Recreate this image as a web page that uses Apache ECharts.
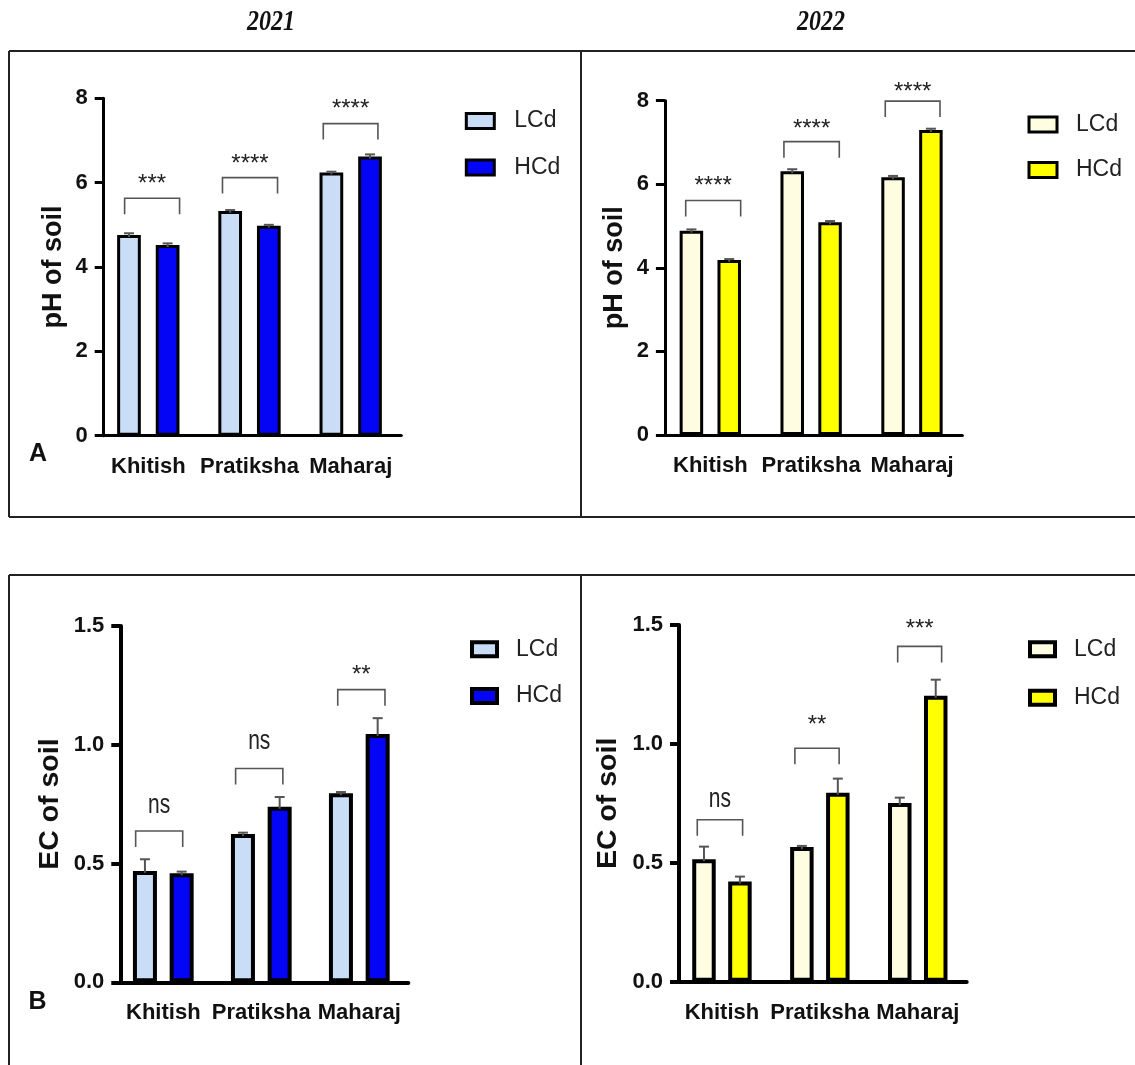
<!DOCTYPE html>
<html><head><meta charset="utf-8">
<script src="https://cdn.jsdelivr.net/npm/echarts@6/dist/echarts.min.js"></script>
<style>html,body{margin:0;padding:0;background:#fff}#c{width:1135px;height:1065px}</style>
</head><body><div id="c"></div>
<script>
// ---------------- data ----------------
const categories = ['Khitish', 'Pratiksha', 'Maharaj'];
const groupNames = ['LCd', 'HCd'];
const yearTitles = ['2021', '2022'];
const panelLetters = ['A', 'B'];
const phTicks = {min: 0, max: 8, interval: 2};
const ecTicks = {min: 0, max: 1.5, interval: 0.5};

const ph2021_LCd = [4.76, 5.33, 6.24];
const ph2021_HCd = [4.52, 4.98, 6.62];
const ph2021_LCd_sd = [0.04, 0.02, 0.02];
const ph2021_HCd_sd = [0.04, 0.02, 0.05];

const ph2022_LCd = [4.89, 6.31, 6.17];
const ph2022_HCd = [4.19, 5.09, 7.30];
const ph2022_LCd_sd = [0.03, 0.05, 0.03];
const ph2022_HCd_sd = [0.02, 0.03, 0.03];

const ec2021_LCd = [0.469, 0.624, 0.796];
const ec2021_HCd = [0.459, 0.739, 1.045];
const ec2021_LCd_sd = [0.049, 0.006, 0.005];
const ec2021_HCd_sd = [0.007, 0.041, 0.067];

const ec2022_LCd = [0.515, 0.566, 0.751];
const ec2022_HCd = [0.421, 0.795, 1.202];
const ec2022_LCd_sd = [0.053, 0.005, 0.023];
const ec2022_HCd_sd = [0.021, 0.059, 0.068];

// significance brackets: [category, left (fraction of band), right (fraction of band), bracket value, label value]
const sig_ph2021 = [[0, -0.234, 0.309, 5.63, 6.10], [1, -0.267, 0.277, 6.12, 6.58], [2, -0.271, 0.269, 7.40, 7.88]];
const sig_ph2021_labels = ['***', '****', '****'];
const sig_ph2022 = [[0, -0.244, 0.301, 5.61, 6.08], [1, -0.270, 0.279, 7.02, 7.44], [2, -0.265, 0.278, 7.99, 8.33]];
const sig_ph2022_labels = ['****', '****', '****'];
const sig_ec2021 = [[0, -0.282, 0.198, 0.637, 0.733], [1, -0.262, 0.220, 0.900, 1.006], [2, -0.220, 0.262, 1.232, 1.315]];
const sig_ec2021_labels = ['ns', 'ns', '**'];
const sig_ec2022 = [[0, -0.252, 0.211, 0.681, 0.758], [1, -0.255, 0.197, 0.982, 1.101], [2, -0.205, 0.244, 1.410, 1.505]];
const sig_ec2022_labels = ['ns', '**', '***'];

// ---------------- layout / style ----------------
const FONT = '"Liberation Sans", Arial, Helvetica, sans-serif';
const panels = [
  {id: 'pH 2021', grid: {left: 97.7, top: 98.3, width: 303.6, height: 337.4}, ticks: phTicks, dec: 0,
   yName: 'pH of soil', nameSize: 27, nameGap: 37, yOff: -6, bw: 23.7, bb: 3, gap: 0.63, aw: 3,
   colors: ['#c9ddf6', '#0505f5'], L: ph2021_LCd, H: ph2021_HCd, Lsd: ph2021_LCd_sd, Hsd: ph2021_HCd_sd,
   sig: sig_ph2021, sigLab: sig_ph2021_labels,
   legend: {left: 464.8, top: 109, gap: 22.5, iw: 28, ih: 15, bw: 3, pad: 15}},
  {id: 'pH 2022', grid: {left: 659.9, top: 100.7, width: 302.5, height: 334.3}, ticks: phTicks, dec: 0,
   yName: 'pH of soil', nameSize: 27, nameGap: 37, yOff: -5, bw: 23.5, bb: 3, gap: 0.61, aw: 3,
   colors: ['#fffde1', '#ffff00'], L: ph2022_LCd, H: ph2022_HCd, Lsd: ph2022_LCd_sd, Hsd: ph2022_HCd_sd,
   sig: sig_ph2022, sigLab: sig_ph2022_labels,
   legend: {left: 1027.5, top: 112.5, gap: 21.5, iw: 28, ih: 15, bw: 3, pad: 14}},
  {id: 'EC 2021', grid: {left: 114.3, top: 626, width: 294, height: 356.3}, ticks: ecTicks, dec: 1,
   yName: 'EC of soil', nameSize: 28.5, nameGap: 56, yOff: -6, bw: 24, bb: 4, gap: 0.53, aw: 4,
   colors: ['#c9ddf6', '#0505f5'], L: ec2021_LCd, H: ec2021_HCd, Lsd: ec2021_LCd_sd, Hsd: ec2021_HCd_sd,
   sig: sig_ec2021, sigLab: sig_ec2021_labels,
   legend: {left: 470, top: 637.3, gap: 22.7, iw: 25, ih: 14, bw: 4, pad: 14}},
  {id: 'EC 2022', grid: {left: 673, top: 625, width: 293.7, height: 356.7}, ticks: ecTicks, dec: 1,
   yName: 'EC of soil', nameSize: 28.5, nameGap: 56.5, yOff: -6, bw: 23.5, bb: 4, gap: 0.53, aw: 4,
   colors: ['#fffde1', '#ffff00'], L: ec2022_LCd, H: ec2022_HCd, Lsd: ec2022_LCd_sd, Hsd: ec2022_HCd_sd,
   sig: sig_ec2022, sigLab: sig_ec2022_labels,
   legend: {left: 1028, top: 637.3, gap: 24.5, iw: 25, ih: 14, bw: 4, pad: 14}}
];

const grids = [], xAxes = [], yAxes = [], series = [], legends = [];

function errorSeries(i, vals, sds, off) {
  return {
    type: 'custom', xAxisIndex: i, yAxisIndex: i, z: 6, silent: true,
    data: vals.map((v, k) => [k, v, v + sds[k]]),
    renderItem(params, api) {
      const c = api.coord([api.value(0), api.value(1)]);
      const t = api.coord([api.value(0), api.value(2)]);
      const x = c[0] + off;
      return {type: 'group', children: [
        {type: 'line', shape: {x1: x, y1: c[1] + 2, x2: x, y2: t[1]}, style: {stroke: '#555', lineWidth: 2}},
        {type: 'line', shape: {x1: x - 5, y1: t[1], x2: x + 5, y2: t[1]}, style: {stroke: '#555', lineWidth: 2}}
      ]};
    }
  };
}

function sigSeries(i, sig, labels) {
  return {
    type: 'custom', xAxisIndex: i, yAxisIndex: i, z: 6, silent: true,
    data: sig,
    renderItem(params, api) {
      const cat = api.value(0);
      const band = api.size([1, 0])[0];
      const p = api.coord([cat, api.value(3)]);
      const xl = p[0] + api.value(1) * band, xr = p[0] + api.value(2) * band;
      const y = p[1];
      const ly = api.coord([cat, api.value(4)])[1];
      const label = labels[params.dataIndex];
      const star = label.indexOf('*') >= 0;
      const fs = star ? 24 : 28;
      return {type: 'group', children: [
        {type: 'polyline', shape: {points: [[xl, y + 16], [xl, y], [xr, y], [xr, y + 16]]},
         style: {stroke: '#555', lineWidth: 1.6, fill: 'none'}},
        {type: 'text', x: (xl + xr) / 2, y: ly + (star ? 0.24 * fs : -0.087 * fs), scaleX: star ? 1 : 0.75,
         style: {text: label, fill: '#222', font: 'normal ' + fs + 'px ' + FONT, align: 'center', verticalAlign: 'middle'}}
      ]};
    }
  };
}

panels.forEach((p, i) => {
  grids.push(Object.assign({containLabel: false}, p.grid));
  xAxes.push({
    type: 'category', gridIndex: i, data: categories,
    axisLine: {lineStyle: {color: '#000', width: p.aw}},
    axisTick: {alignWithLabel: true, length: 12, lineStyle: {color: '#000', width: p.aw}},
    axisLabel: {interval: 0, color: '#111', fontFamily: FONT, fontWeight: 'bold', fontSize: 22, margin: 20}
  });
  yAxes.push({
    type: 'value', gridIndex: i, min: p.ticks.min, max: p.ticks.max, interval: p.ticks.interval,
    offset: p.yOff,
    name: p.yName, nameLocation: 'middle', nameGap: p.nameGap,
    nameTextStyle: {color: '#111', fontFamily: FONT, fontWeight: 'bold', fontSize: p.nameSize},
    axisLine: {show: true, lineStyle: {color: '#000', width: p.aw}},
    axisTick: {show: true, length: 9, lineStyle: {color: '#000', width: p.aw}},
    splitLine: {show: false},
    axisLabel: {color: '#111', fontFamily: FONT, fontWeight: 'bold', fontSize: 22, margin: 16,
      formatter: v => v.toFixed(p.dec)}
  });
  const nL = groupNames[0] + ' ' + p.id, nH = groupNames[1] + ' ' + p.id;
  series.push({
    name: nL, type: 'bar', xAxisIndex: i, yAxisIndex: i, data: p.L, barWidth: p.bw, barGap: (p.gap * 100) + '%',
    itemStyle: {color: p.colors[0], borderColor: '#000', borderWidth: p.bb}, silent: true
  });
  series.push({
    name: nH, type: 'bar', xAxisIndex: i, yAxisIndex: i, data: p.H, barWidth: p.bw, barGap: (p.gap * 100) + '%',
    itemStyle: {color: p.colors[1], borderColor: '#000', borderWidth: p.bb}, silent: true
  });
  const off = p.bw * (1 + p.gap) / 2;
  series.push(errorSeries(i, p.L, p.Lsd, -off));
  series.push(errorSeries(i, p.H, p.Hsd, off));
  series.push(sigSeries(i, p.sig, p.sigLab));
  const lg = p.legend;
  legends.push({
    orient: 'vertical', left: lg.left, top: lg.top, padding: 0, itemGap: lg.gap,
    itemWidth: lg.iw, itemHeight: lg.ih, icon: 'rect', selectedMode: false,
    data: [nL, nH], formatter: n => n.split(' ')[0],
    itemStyle: {borderColor: '#000', borderWidth: lg.bw},
    textStyle: {color: '#222', fontFamily: FONT, fontSize: 23, lineHeight: 24, padding: [0, 0, 0, lg.pad]}
  });
});

const frame = {stroke: '#222', lineWidth: 2};
const graphics = [
  {type: 'line', shape: {x1: 9, y1: 51, x2: 1135, y2: 51}, style: frame},
  {type: 'line', shape: {x1: 9, y1: 517, x2: 1135, y2: 517}, style: frame},
  {type: 'line', shape: {x1: 9, y1: 51, x2: 9, y2: 517}, style: frame},
  {type: 'line', shape: {x1: 581, y1: 51, x2: 581, y2: 517}, style: frame},
  {type: 'line', shape: {x1: 9, y1: 575, x2: 1135, y2: 575}, style: frame},
  {type: 'line', shape: {x1: 9, y1: 575, x2: 9, y2: 1065}, style: frame},
  {type: 'line', shape: {x1: 581, y1: 575, x2: 581, y2: 1065}, style: frame},
  {type: 'text', x: 271, y: 22.5, scaleX: 0.8,
   style: {text: yearTitles[0], font: 'italic bold 30px "Liberation Serif", "Times New Roman", serif', fill: '#111', align: 'center', verticalAlign: 'middle'}},
  {type: 'text', x: 821, y: 22.5, scaleX: 0.8,
   style: {text: yearTitles[1], font: 'italic bold 30px "Liberation Serif", "Times New Roman", serif', fill: '#111', align: 'center', verticalAlign: 'middle'}},
  {type: 'text', x: 38, y: 454,
   style: {text: panelLetters[0], font: 'bold 25px ' + FONT, fill: '#111', align: 'center', verticalAlign: 'middle'}},
  {type: 'text', x: 37.5, y: 1002,
   style: {text: panelLetters[1], font: 'bold 25px ' + FONT, fill: '#111', align: 'center', verticalAlign: 'middle'}}
];

const chart = echarts.init(document.getElementById('c'));
chart.setOption({
  animation: false,
  backgroundColor: '#fff',
  grid: grids, xAxis: xAxes, yAxis: yAxes, series: series, legend: legends,
  graphic: graphics
});
</script></body></html>
